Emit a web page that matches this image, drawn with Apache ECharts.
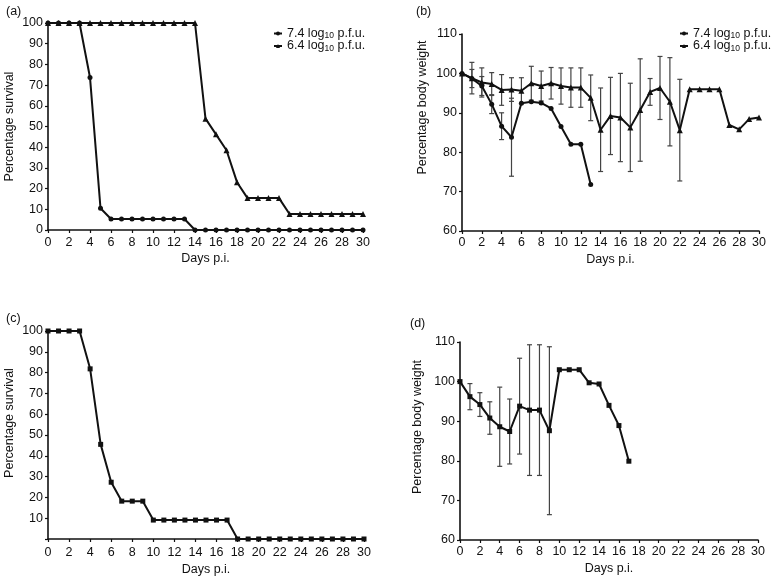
<!DOCTYPE html>
<html>
<head>
<meta charset="utf-8">
<script src="https://cdn.jsdelivr.net/npm/echarts@6/dist/echarts.min.js"></script>
<style>
  html, body { margin: 0; padding: 0; background: #fff; }
  #chart { width: 774px; height: 577px; }
</style>
</head>
<body>
<div id="chart"></div>
<script>
  // Days post infection
  const days = [0, 1, 2, 3, 4, 5, 6, 7, 8, 9, 10, 11, 12, 13, 14, 15, 16, 17, 18, 19, 20, 21, 22, 23, 24, 25, 26, 27, 28, 29, 30];

  // (a) survival
  const surv74 = [100, 100, 100, 100, 73.7, 10.5, 5.3, 5.3, 5.3, 5.3, 5.3, 5.3, 5.3, 5.3, 0, 0, 0, 0, 0, 0, 0, 0, 0, 0, 0, 0, 0, 0, 0, 0, 0];
  const surv64 = [100, 100, 100, 100, 100, 100, 100, 100, 100, 100, 100, 100, 100, 100, 100, 53.8, 46.2, 38.5, 23.1, 15.4, 15.4, 15.4, 15.4, 7.7, 7.7, 7.7, 7.7, 7.7, 7.7, 7.7, 7.7];

  // (b) body weight, mean and SD
  const weight74 = [100, 98.7, 96.8, 92.2, 86.6, 83.8, 92.4, 92.8, 92.5, 91.1, 86.5, 82.0, 82.0, 71.8];
  const sd74 = [null, 2.3, 2.4, 2.4, 3.4, 9.9, null, null, null, null, null, null, null, null];
  const weight64 = [100, 98.8, 97.7, 97.3, 95.8, 95.9, 95.6, 97.5, 96.8, 97.5, 96.8, 96.4, 96.4, 93.8, 85.7, 89.2, 88.8, 86.3, 90.7, 95.3, 96.3, 92.8, 85.6, 96.0, 96.0, 96.0, 96.0, 86.9, 85.8, 88.4, 88.8];
  const sd64 = [null, 4.0, 3.7, 2.9, 3.9, 3.0, 3.3, 4.3, 3.8, 4.0, 4.6, 5.0, 5.0, 5.8, 10.6, 9.8, 11.2, 11.2, 13.0, 3.4, 8.0, 11.2, 12.9, null, null, null, null, null, null, null, null];

  // (c) survival
  const survC = [100, 100, 100, 100, 81.8, 45.5, 27.3, 18.2, 18.2, 18.2, 9.1, 9.1, 9.1, 9.1, 9.1, 9.1, 9.1, 9.1, 0, 0, 0, 0, 0, 0, 0, 0, 0, 0, 0, 0, 0];

  // (d) body weight, mean and SD
  const weightD = [100, 96.2, 94.2, 90.8, 88.6, 87.4, 93.8, 92.8, 92.8, 87.6, 103.0, 103.0, 103.0, 99.7, 99.4, 94.0, 88.9, 79.9];
  const sdD = [null, 3.3, 3.0, 4.1, 10.0, 8.2, 12.1, 16.5, 16.5, 21.2, null, null, null, null, null, null, null, null];

  const name74 = '7.4 log10 p.f.u.';
  const name64 = '6.4 log10 p.f.u.';

  const font = 'Liberation Sans, Arial, sans-serif';
  const ink = '#111';

  const pairs = (vals) => vals.map((v, i) => [days[i], v]);
  const bars = (vals, sd) => vals
    .map((v, i) => (sd[i] == null ? null : [days[i], v - sd[i], v + sd[i]]))
    .filter(Boolean);

  const chart = echarts.init(document.getElementById('chart'));

  const xAxisBase = (gridIndex, margin, gap) => ({
    gridIndex,
    type: 'value',
    min: 0,
    max: 30,
    interval: 2,
    name: 'Days p.i.',
    nameLocation: 'middle',
    nameGap: gap,
    nameTextStyle: { color: ink, fontSize: 12.5, fontFamily: font },
    axisLine: { lineStyle: { color: ink, width: 1.6 } },
    axisTick: { length: 3, lineStyle: { color: ink, width: 1.2 } },
    axisLabel: { color: ink, fontSize: 12.5, fontFamily: font, margin },
    splitLine: { show: false }
  });

  const yAxisBase = (gridIndex, min, max, name, gap, shift, hideMin) => ({
    gridIndex,
    type: 'value',
    min,
    max,
    interval: 10,
    name,
    nameLocation: 'middle',
    nameGap: gap,
    nameTextStyle: { color: ink, fontSize: 12.5, fontFamily: font, padding: [0, 0, 0, shift] },
    axisLine: { show: true, lineStyle: { color: ink, width: 1.6 } },
    axisTick: { show: true, length: 3, lineStyle: { color: ink, width: 1.2 } },
    axisLabel: {
      color: ink, fontSize: 12.5, fontFamily: font, margin: 5,
      formatter: (v) => (hideMin && v === min ? '' : String(v))
    },
    splitLine: { show: false }
  });

  const lineSeries = (name, data, symbol, axis) => ({
    name,
    type: 'line',
    xAxisIndex: axis,
    yAxisIndex: axis,
    data,
    symbol,
    symbolSize: symbol === 'triangle' ? 6 : 5,
    showSymbol: true,
    lineStyle: { color: ink, width: 2 },
    itemStyle: { color: ink },
    z: 3,
    animation: false
  });

  const errorSeries = (data, axis) => ({
    type: 'custom',
    xAxisIndex: axis,
    yAxisIndex: axis,
    data,
    encode: { x: 0, y: [1, 2] },
    z: 2,
    silent: true,
    renderItem: (params, api) => {
      const x = api.value(0);
      const lo = api.coord([x, api.value(1)]);
      const hi = api.coord([x, api.value(2)]);
      const w = 2.5;
      const style = { stroke: '#444', lineWidth: 1.2 };
      return {
        type: 'group',
        children: [
          { type: 'line', shape: { x1: lo[0], y1: lo[1], x2: hi[0], y2: hi[1] }, style },
          { type: 'line', shape: { x1: hi[0] - w, y1: hi[1], x2: hi[0] + w, y2: hi[1] }, style },
          { type: 'line', shape: { x1: lo[0] - w, y1: lo[1], x2: lo[0] + w, y2: lo[1] }, style }
        ]
      };
    }
  });

  const legendBase = (left) => ({
    left,
    top: 22,
    orient: 'vertical',
    itemWidth: 8,
    itemHeight: 5,
    itemGap: -1,
    data: [name74, name64],
    formatter: (n) => n.replace('log10', 'log{sub|10}'),
    textStyle: {
      color: ink, fontSize: 12.5, fontFamily: font,
      rich: { sub: { fontSize: 8.5, fontFamily: font, color: ink, padding: [5, 0, 0, 0] } }
    },
    selectedMode: false
  });

  const panelTitle = (text, left, top) => ({
    text, left, top,
    textStyle: { color: ink, fontSize: 12.5, fontWeight: 'normal', fontFamily: font }
  });

  chart.setOption({
    backgroundColor: '#fff',
    animation: false,
    title: [
      panelTitle('(a)', 1, 0),
      panelTitle('(b)', 411, 0),
      panelTitle('(c)', 1, 307),
      panelTitle('(d)', 405, 312)
    ],
    legend: [legendBase(268), legendBase(674)],
    grid: [
      { left: 48, top: 23, width: 315, height: 207 },
      { left: 462, top: 34, width: 297, height: 197 },
      { left: 48, top: 331, width: 316, height: 208 },
      { left: 460, top: 342, width: 298, height: 198 }
    ],
    xAxis: [
      xAxisBase(0, 6, 22),
      xAxisBase(1, 5, 22),
      xAxisBase(2, 7, 24),
      xAxisBase(3, 5, 22)
    ],
    yAxis: [
      yAxisBase(0, 0, 100, 'Percentage survival', 32, 0, false),
      yAxisBase(1, 60, 110, 'Percentage body weight', 33, 50, false),
      yAxisBase(2, 0, 100, 'Percentage survival', 32, 24, true),
      yAxisBase(3, 60, 110, 'Percentage body weight', 36, 28, false)
    ],
    series: [
      lineSeries(name74, pairs(surv74), 'circle', 0),
      lineSeries(name64, pairs(surv64), 'triangle', 0),
      errorSeries(bars(weight74, sd74), 1),
      errorSeries(bars(weight64, sd64), 1),
      lineSeries(name74, pairs(weight74), 'circle', 1),
      lineSeries(name64, pairs(weight64), 'triangle', 1),
      lineSeries('Survival', pairs(survC), 'rect', 2),
      errorSeries(bars(weightD, sdD), 3),
      lineSeries('Body weight', pairs(weightD), 'rect', 3)
    ]
  });
</script>
</body>
</html>
